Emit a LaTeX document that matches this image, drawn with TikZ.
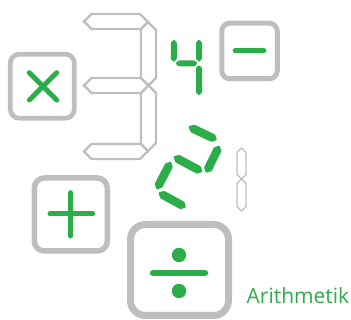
\documentclass[tikz,border=0pt]{standalone}
\usepackage{fontspec}
\setmainfont{Open Sans}
\usepackage{tikz}
\usetikzlibrary{calc}

\definecolor{segGreen}{RGB}{43,173,74}
\definecolor{segGray}{RGB}{189,190,189}

% pointed display segment from #2 to #3, half width #4 (in pt)
\newcommand{\dispseg}[4][]{%
  \path[#1] (#2) -- ($(#2)!1.414*#4pt!45:(#3)$) -- ($(#3)!1.414*#4pt!-45:(#2)$) -- (#3)
    -- ($(#3)!1.414*#4pt!45:(#2)$) -- ($(#2)!1.414*#4pt!-45:(#3)$) -- cycle;}

\begin{document}
\begin{tikzpicture}[x=1pt, y=-1pt,
    opbox/.style={draw=segGray, rounded corners=9pt, minimum width=#1, minimum height=#1, inner sep=0pt},
    sign/.style={draw=segGreen, line width=5pt, line cap=round},
    litseg/.style={fill=segGreen, rounded corners=0.8pt},
    offseg/.style={draw=segGray, line width=2.2pt, line join=miter}]
     \useasboundingbox (0,0) rectangle (351,320);

     % operator boxes
     \node[opbox=64pt, line width=4.7pt] (times) at (42.3,86.2) {};
     \node[opbox=55.5pt, line width=5pt, rounded corners=8pt] (minus) at (249.5,51) {};
     \node[opbox=73pt, line width=5.5pt, rounded corners=10pt] (plus) at (70.8,214.5) {};
     \node[opbox=91pt, line width=7pt, rounded corners=15pt, minimum width=98pt] (divide) at (179.5,270) {};

     \draw[sign] (29.3,72.7) -- (56.7,100);
     \draw[sign] (56.7,72.7) -- (29.3,100);
     \draw[sign, line width=4.7pt] (235,50.7) -- (264,50.7);
     \draw[sign] (50,214) -- (92.7,214);
     \draw[sign] (70.7,192.7) -- (70.7,236);
     \draw[sign, line width=6.5pt] (153,273) -- (205,273);
     \fill[segGreen] (179,255) circle (7.2);
     \fill[segGreen] (179,291) circle (7.2);

     % the unlit 3
     \draw[offseg] (84,21.5) -- (91.5,14) -- (140,14) -- (148,22) -- (141,29) -- (91.5,29) -- cycle;
     \draw[offseg] (141,29) -- (148,22) -- (156,30) -- (156,78) -- (148.5,85.5) -- (141,78) -- cycle;
     \draw[offseg] (84,85.5) -- (91.5,78) -- (141,78) -- (148.5,85.5) -- (141,93) -- (91.5,93) -- cycle;
     \draw[offseg] (141,93) -- (148.5,85.5) -- (156,93) -- (156,143) -- (148,151) -- (141,144) -- cycle;
     \draw[offseg] (84,151.5) -- (91.5,144) -- (141,144) -- (148,151) -- (140,159) -- (91.5,159) -- cycle;

     % the lit 4
     \dispseg[litseg]{173.8,39.5}{173.8,62}{3}
     \dispseg[litseg]{175.5,63.5}{197.5,63.5}{3}
     \dispseg[litseg]{199,39.5}{199,62}{3}
     \dispseg[litseg]{199,65}{199,95.5}{3}

     % the tilted 2
     \dispseg[litseg]{188.5,126.5}{217,140}{4.2}
     \dispseg[litseg]{219.5,145.5}{206,173}{4.2}
     \dispseg[litseg]{173.5,156.5}{202.5,172}{4.2}
     \dispseg[litseg]{171,161.5}{156.5,189.5}{4.2}
     \dispseg[litseg]{158.5,192.5}{186,207.5}{4.2}

     % the thin 1
     \dispseg[offseg, line width=1.3pt]{241.5,148}{241.5,179}{4.5}
     \dispseg[offseg, line width=1.3pt]{241.5,179}{241.5,211}{4.5}

     \node[anchor=base west, inner sep=0pt, text=segGreen, font=\fontsize{21}{21}\selectfont] (title) at (246.5,304) {Arithmetik};
\end{tikzpicture}
\end{document}
